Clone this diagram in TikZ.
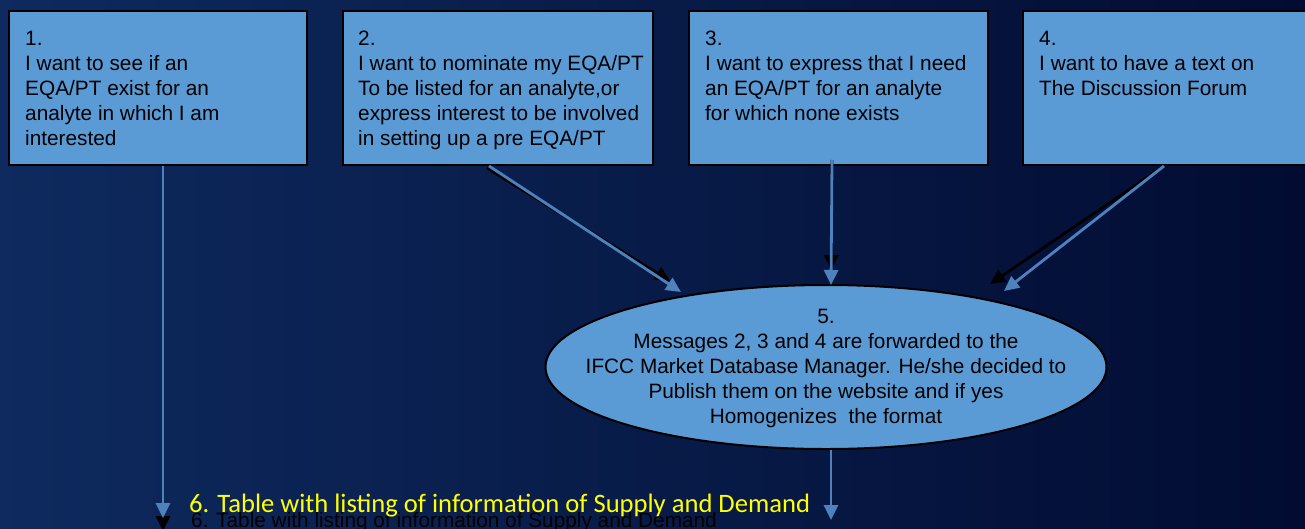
\documentclass[tikz,border=0pt]{standalone}
\usepackage{fontspec}
\setmainfont{Liberation Sans}
\newfontfamily\carlitofont{Carlito}
\usetikzlibrary{shapes.geometric,arrows.meta}
\definecolor{bgL}{RGB}{14,42,94}
\definecolor{bgR}{RGB}{2,12,50}
\definecolor{boxblue}{RGB}{91,155,213}
\definecolor{arrblue}{RGB}{79,129,189}
\definecolor{txtyellow}{RGB}{255,255,0}
\begin{document}
\begin{tikzpicture}[x=1pt,y=-1pt,
  boxnode/.style={draw=black,line width=2pt,fill=boxblue,minimum height=154pt,inner sep=0pt,anchor=north west},
  boxtext/.style={anchor=north west,inner sep=0pt,align=left,font=\fontsize{20.8pt}{25pt}\selectfont,text=black},
  blueline/.style={draw=arrblue,line width=2.8pt,-{Triangle[length=15pt,width=14pt]}},
  shadowline/.style={draw=black,line width=2.8pt,-{Triangle[length=15pt,width=14pt]}}]

\useasboundingbox (0,0) rectangle (1305,528);
\shade[left color=bgL,right color=bgR] (0,0) rectangle (1305,528);

% boxes
\node[boxnode,minimum width=298pt] (b1) at (8,10) {};
\node[boxnode,minimum width=310pt] (b2) at (342,10) {};
\node[boxnode,minimum width=299pt] (b3) at (688,10) {};
\node[boxnode,minimum width=300pt] (b4) at (1022,10) {};

\node[boxtext] (t1) at (25,31) {1.\\I want to see if an\\EQA/PT exist for an\\analyte in which I am\\interested};
\node[boxtext] (t2) at (358,31) {2.\\I want to nominate my EQA/PT\\To be listed for an analyte,or\\express interest to be involved\\in setting up a pre EQA/PT};
\node[boxtext] (t3) at (705,31) {3.\\I want to express that I need\\an EQA/PT for an analyte\\for which none exists};
\node[boxtext] (t4) at (1039,31) {4.\\I want to have a text on\\The Discussion Forum};

% ellipse
\node[ellipse,draw=black,line width=2pt,fill=boxblue,minimum width=561pt,minimum height=164pt,inner sep=0pt] (e5) at (826,367) {};
\node[inner sep=0pt,align=center,font=\fontsize{20.8pt}{25pt}\selectfont,text=black] (t5) at (826,368)
  {5.\\Messages 2, 3 and 4 are forwarded to the\\IFCC Market Database Manager. He/she decided to\\Publish them on the website and if yes\\Homogenizes\ \ the format};

% bottom texts (shadow copy, then yellow)
\node[anchor=base west,inner sep=0pt,font=\fontsize{20.8pt}{25pt}\selectfont,text=black] (t6s) at (191,527)
  {6. Table with listing of information of Supply and Demand};
\node[anchor=base west,inner sep=0pt,font=\carlitofont\fontsize{26.6pt}{30pt}\selectfont,text=txtyellow] (t6) at (189,512)
  {6. Table with listing of information of Supply and Demand};

% end coordinates
\coordinate (a1s) at (163,531);
\coordinate (a1e) at (163,518);
\coordinate (a2s) at (670,281);
\coordinate (a2e) at (681,292);
\coordinate (a3s) at (831,270);
\coordinate (a3e) at (831,285);
\coordinate (a4s) at (990,284);
\coordinate (a4e) at (1004,291);
\coordinate (a5e) at (831,520);

% shadows
\draw[shadowline] (b1.south -| a1s) -- (a1s);
\draw[shadowline] ([xshift=-11pt,yshift=-2pt]b2.south) -- (a2s);
\draw[shadowline] ([xshift=-6.5pt,yshift=6pt]b3.south) -- (a3s);
\draw[shadowline] ([xshift=-12pt,yshift=-2pt]b4.south) -- (a4s);

% arrows
\draw[blueline] (b1.south -| a1e) -- (a1e);
\draw[blueline] ([xshift=-9pt]b2.south) -- (a2e);
\draw[blueline] ([xshift=-6.5pt,yshift=6pt]b3.south) -- (a3e);
\draw[blueline] ([xshift=-9pt]b4.south) -- (a4e);
\draw[blueline] (e5.south -| a5e) -- (a5e);
\end{tikzpicture}
\end{document}
